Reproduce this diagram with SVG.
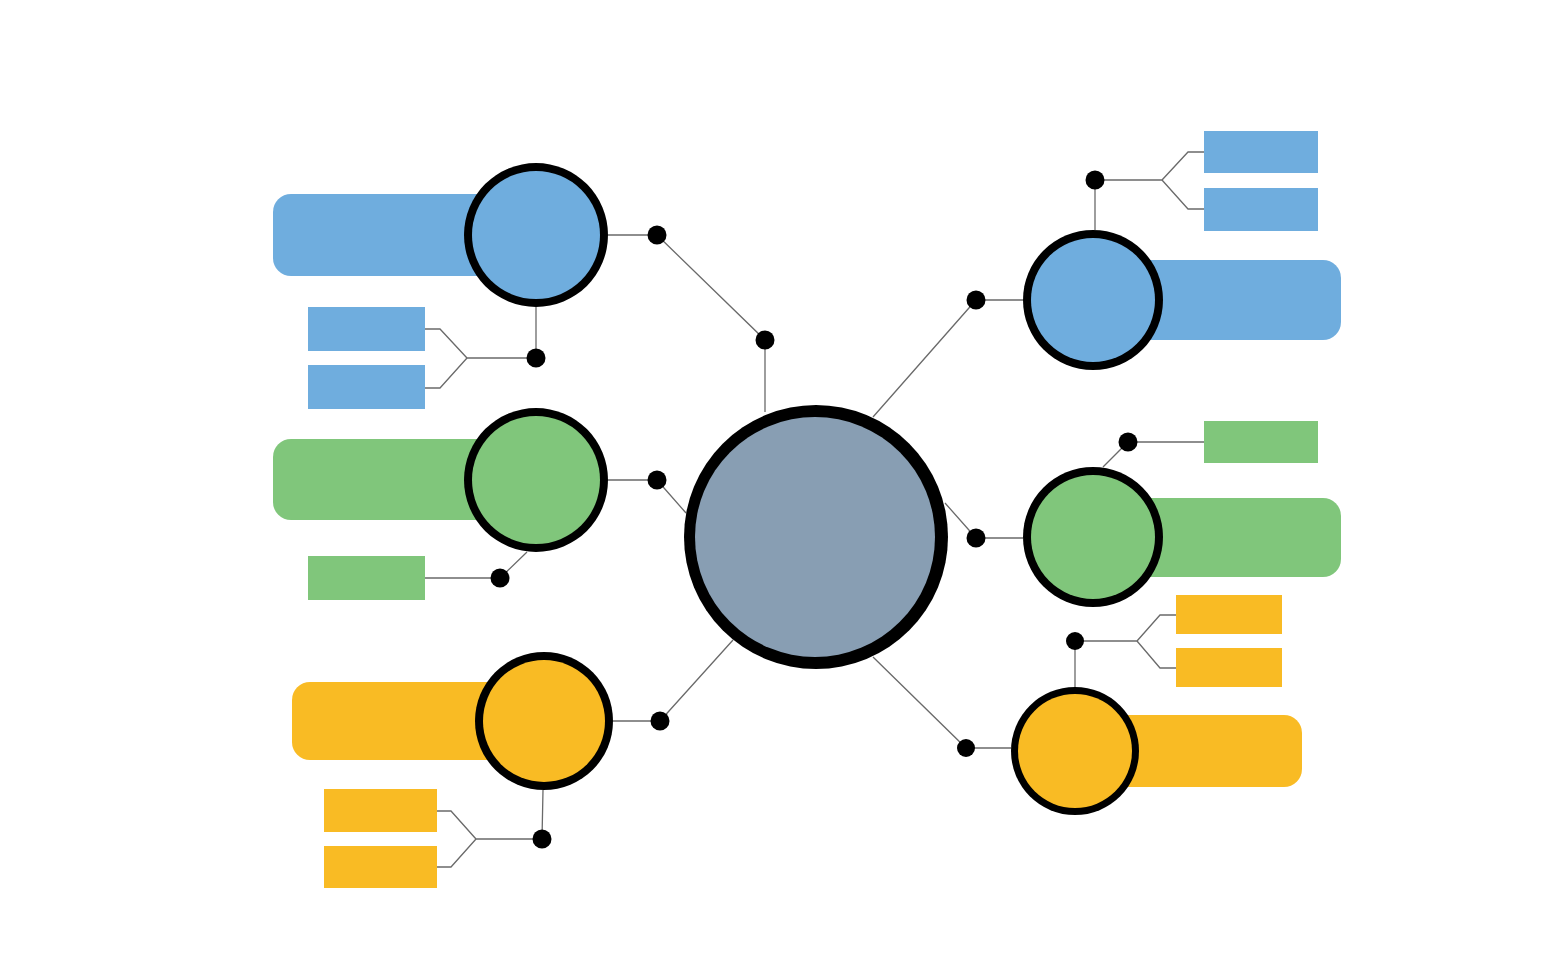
<svg xmlns="http://www.w3.org/2000/svg" width="1568" height="980" viewBox="0 0 1568 980">
<style>
.blue{fill:#6fadde}
.green{fill:#80c67b}
.yellow{fill:#f9bb24}
.black{fill:#000}
.hub{fill:#889eb3}
.dot{fill:#000}
.ln{fill:none;stroke:#6a6a6a;stroke-width:1.3}
</style>
<rect width="1568" height="980" fill="#fff"/>
<g id="connectors">
<polyline class="ln" points="608,235 657,235 765,340 765,412"/>
<polyline class="ln" points="608,480 657,480 686,513"/>
<polyline class="ln" points="613,721 660,721 733,640"/>
<polyline class="ln" points="1023,300 976,300 873,417"/>
<polyline class="ln" points="1023,538 976,538 945,503"/>
<polyline class="ln" points="1011,748 966,748 873,657"/>
<polyline class="ln" points="536,307 536,358 467,358 440,329 425,329"/>
<polyline class="ln" points="467,358 440,388 425,388"/>
<polyline class="ln" points="425,578 500,578 527,552"/>
<polyline class="ln" points="543,790 542,839 476,839 451,811 437,811"/>
<polyline class="ln" points="476,839 451,867 437,867"/>
<polyline class="ln" points="1095,230 1095,180 1162,180 1188,152 1204,152"/>
<polyline class="ln" points="1162,180 1188,209 1204,209"/>
<polyline class="ln" points="1103,467 1128,442 1204,442"/>
<polyline class="ln" points="1075,687 1075,641 1137,641 1160,615 1176,615"/>
<polyline class="ln" points="1137,641 1160,668 1176,668"/>
<circle class="dot" cx="657" cy="235" r="9.5"/>
<circle class="dot" cx="765" cy="340" r="9.5"/>
<circle class="dot" cx="657" cy="480" r="9.5"/>
<circle class="dot" cx="660" cy="721" r="9.5"/>
<circle class="dot" cx="976" cy="300" r="9.5"/>
<circle class="dot" cx="976" cy="538" r="9.5"/>
<circle class="dot" cx="966" cy="748" r="9"/>
<circle class="dot" cx="536" cy="358" r="9.5"/>
<circle class="dot" cx="500" cy="578" r="9.5"/>
<circle class="dot" cx="542" cy="839" r="9.5"/>
<circle class="dot" cx="1095" cy="180" r="9.5"/>
<circle class="dot" cx="1128" cy="442" r="9.5"/>
<circle class="dot" cx="1075" cy="641" r="9"/>
</g>
<g id="hub">
<circle class="black" cx="816" cy="537" r="132"/>
<circle class="hub" cx="815" cy="537" r="120"/>
</g>
<g id="node-left-blue">
<rect class="blue" x="273" y="194" width="264" height="82" rx="18"/>
<circle class="black" cx="536" cy="235" r="72"/>
<circle class="blue" cx="536" cy="235" r="64"/>
<rect class="blue" x="308" y="307" width="117" height="44"/>
<rect class="blue" x="308" y="365" width="117" height="44"/>
</g>
<g id="node-left-green">
<rect class="green" x="273" y="439" width="264" height="81" rx="18"/>
<circle class="black" cx="536" cy="480" r="72"/>
<circle class="green" cx="536" cy="480" r="64"/>
<rect class="green" x="308" y="556" width="117" height="44"/>
</g>
<g id="node-left-yellow">
<rect class="yellow" x="292" y="682" width="252" height="78" rx="18"/>
<circle class="black" cx="544" cy="721" r="69"/>
<circle class="yellow" cx="544" cy="721" r="61"/>
<rect class="yellow" x="324" y="789" width="113" height="43"/>
<rect class="yellow" x="324" y="846" width="113" height="42"/>
</g>
<g id="node-right-blue">
<rect class="blue" x="1093" y="260" width="248" height="80" rx="18"/>
<circle class="black" cx="1093" cy="300" r="70"/>
<circle class="blue" cx="1093" cy="300" r="62"/>
<rect class="blue" x="1204" y="131" width="114" height="42"/>
<rect class="blue" x="1204" y="188" width="114" height="43"/>
</g>
<g id="node-right-green">
<rect class="green" x="1093" y="498" width="248" height="79" rx="18"/>
<circle class="black" cx="1093" cy="537" r="70"/>
<circle class="green" cx="1093" cy="537" r="62"/>
<rect class="green" x="1204" y="421" width="114" height="42"/>
</g>
<g id="node-right-yellow">
<rect class="yellow" x="1075" y="715" width="227" height="72" rx="18"/>
<circle class="black" cx="1075" cy="751" r="64"/>
<circle class="yellow" cx="1075" cy="751" r="57"/>
<rect class="yellow" x="1176" y="595" width="106" height="39"/>
<rect class="yellow" x="1176" y="648" width="106" height="39"/>
</g>
</svg>
